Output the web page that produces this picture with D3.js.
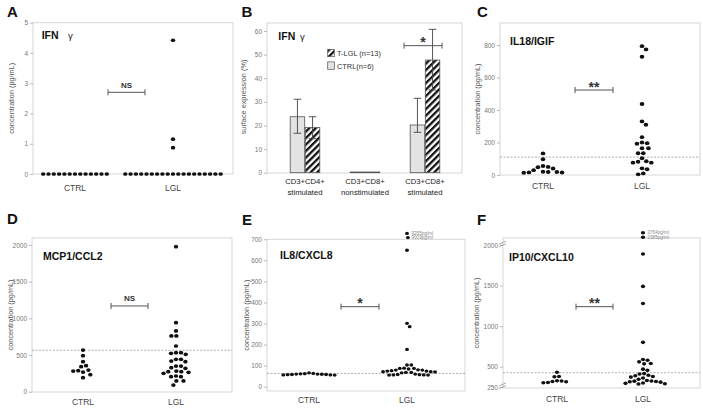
<!DOCTYPE html>
<html><head><meta charset="utf-8">
<script src="https://cdn.jsdelivr.net/npm/d3@7"></script>
<style>body{margin:0;background:#fff} svg{display:block;font-family:"Liberation Sans",Arial,sans-serif}</style>
</head><body><svg id="c" width="703" height="408"></svg>
<script>
// ---------------- DATA ----------------
const groups = ["CTRL", "LGL"];

// A: IFN gamma (pg/mL)
const aCtrl = [0,0,0,0,0,0,0,0,0,0,0,0,0];
const aLgl  = [4.42,1.15,0.87,0,0,0,0,0,0,0,0,0,0,0,0,0,0,0,0,0,0,0];
const aTicks = [0,1,2,3,4,5];

// B: IFN gamma surface expression (%)
const bCategories = [["CD3+CD4+","stimulated"],["CD3+CD8+","nonstimulated"],["CD3+CD8+","stimulated"]];
const bSeries = ["CTRL", "T-LGL"];
const bLegend = ["T-LGL (n=13)", "CTRL(n=6)"];
const bCtrl   = [23.7, 0.3, 20.2];
const bCtrlLo = [16.7, null, 17.1];
const bCtrlHi = [31.1, null, 31.5];
const bTlgl   = [19.1, 0.3, 47.7];
const bTlglLo = [14.4, null, 35.0];
const bTlglHi = [23.7, null, 60.7];
const bTicks = [0,10,20,30,40,50,60];

// C: IL18/IGIF
const cCtrl = [133,97,55,50,48,40,30,20,18,18,16,15,14];
const cLgl  = [793,773,728,437,330,309,233,200,196,192,165,165,134,134,103,85,82,76,76,41,35,10,4];
const cTicks = [0,200,400,600,800];
const cCutoff = 110;

// D: MCP1/CCL2
const dCtrl = [568,491,409,355,341,295,286,282,268,232,191];
const dLgl  = [1977,941,828,760,760,623,532,532,523,510,441,441,418,409,350,350,327,318,282,273,273,264,250,214,205,205,146,146,91];
const dTicks = [0,500,1000,1500,2000];
const dCutoff = 565;

// E: IL8/CXCL8
const eCtrl = [66,63,62,61,60,60,59,58,58,57,56,56,55];
const eLgl  = [9255,9009,648,301,285,177,103,103,88,87,87,84,80,79,79,76,74,74,71,71,70,68,68,66,60,58,57,56,56,55,55];
const eTicks = [0,100,200,300,400,500,600,700];
const eCutoff = 63;
const eOffLabels = [[9255,"9255pg/ml"],[9009,"9009pg/ml"]];

// F: IP10/CXCL10
const fCtrl = [431,380,377,327,324,318,315,305,303];
const fLgl  = [2764,2385,1890,1490,1280,800,590,580,560,540,535,470,455,415,410,395,388,380,372,360,345,330,325,322,318,315,310,300,295,290,288];
const fTicks = [250,500,1000,1500,2000];
const fCutoff = 426;
const fOffLabels = [[2764,"2764pg/ml"],[2385,"2385pg/ml"]];

// ---------------- DRAW ----------------
const svg = d3.select("#c");
const FONT = "'Liberation Sans', Arial, sans-serif";

function swarm(vals, y, D) {
  const pts = vals.map(v => ({v, y: y(v)})).sort((a,b) => a.y - b.y);
  const placed = [];
  for (const p of pts) {
    const cands = [0];
    for (const q of placed) {
      const dy = p.y - q.y;
      if (Math.abs(dy) < D) { const dx = Math.sqrt(D*D - dy*dy); cands.push(q.x + dx, q.x - dx); }
    }
    cands.sort((a,b) => (Math.abs(a) - Math.abs(b)) || (b - a));
    for (const c of cands) {
      if (placed.every(q => (q.x-c)*(q.x-c) + (q.y-p.y)*(q.y-p.y) >= D*D - 1e-6)) { p.x = c; break; }
    }
    placed.push(p);
  }
  return placed;
}

function panelLetter(t, x, y) {
  svg.append("text").attr("x", x).attr("y", y).text(t)
    .attr("font-size", 15).attr("font-weight", "bold").attr("fill", "#111").attr("font-family", FONT);
}

function frame(g, f) {
  g.append("rect").attr("x", f.x0).attr("y", f.y0).attr("width", f.x1 - f.x0).attr("height", f.y1 - f.y0)
    .attr("fill", "none").attr("stroke", "#d2d2d2").attr("stroke-width", 0.9);
}

function yAxis(g, f, y, ticks) {
  const ax = g.append("g").attr("transform", `translate(${f.x0},0)`)
    .call(d3.axisLeft(y).tickValues(ticks).tickSize(3).tickPadding(2).tickFormat(d3.format("d")));
  ax.select(".domain").remove();
  ax.selectAll("line").attr("stroke", "#aaa").attr("stroke-width", 0.8);
  ax.selectAll("text").attr("fill", "#777").attr("font-size", 6.5).attr("font-family", FONT);
}

function yTitle(g, t, x, cy) {
  g.append("text").attr("transform", `translate(${x},${cy}) rotate(-90)`).attr("text-anchor", "middle")
    .text(t).attr("font-size", 7.3).attr("fill", "#555").attr("font-family", FONT);
}

function bracket(g, xa, xb, yy, label, starSize) {
  g.append("line").attr("x1", xa).attr("x2", xb).attr("y1", yy).attr("y2", yy).attr("stroke", "#555").attr("stroke-width", 1);
  [xa, xb].forEach(xx => g.append("line").attr("x1", xx).attr("x2", xx).attr("y1", yy - 3).attr("y2", yy + 3).attr("stroke", "#555").attr("stroke-width", 1));
  const isStar = label.includes("*");
  g.append("text").attr("x", (xa + xb) / 2).attr("y", isStar ? yy + 1.5 : yy - 4.5).attr("text-anchor", "middle")
    .text(label).attr("font-weight", "bold").attr("font-size", isStar ? starSize : 8).attr("fill", "#333").attr("font-family", FONT);
}

function scatterPanel(c) {
  const g = svg.append("g");
  const y = d3.scaleLinear().domain(c.dom).range(c.rng);
  const x = d3.scalePoint().domain(groups).range(c.centers);
  frame(g, c.f);
  if (c.cutoff != null) {
    g.append("line").attr("x1", c.f.x0).attr("x2", c.f.x1).attr("y1", y(c.cutoff)).attr("y2", y(c.cutoff))
      .attr("stroke", "#999").attr("stroke-width", 0.8).attr("stroke-dasharray", "2,1.5");
  }
  yAxis(g, c.f, y, c.ticks);
  yTitle(g, c.ytitle, c.ytx, (c.f.y0 + c.f.y1) / 2);
  // category labels
  groups.forEach(gr => g.append("text").attr("x", x(gr)).attr("y", c.labelY).attr("text-anchor", "middle")
    .text(gr).attr("font-size", 8.5).attr("fill", "#444").attr("font-family", FONT));
  // title
  const tt = g.append("text").attr("x", c.titleX).attr("y", c.titleY).attr("font-weight", "bold")
    .attr("font-size", 10.5).attr("fill", "#111").attr("font-family", FONT).text(c.title);
  if (c.gamma) {
    g.append("text").attr("x", c.gamma).attr("y", c.titleY).attr("font-size", 9.5).attr("fill", "#111")
      .attr("font-family", FONT).text("γ");
  }
  // dots
  [[groups[0], c.ctrl], [groups[1], c.lgl]].forEach(([gr, vals]) => {
    const pts = swarm(vals, y, c.D);
    g.selectAll(null).data(pts).enter().append("ellipse")
      .attr("cx", d => x(gr) + d.x).attr("cy", d => d.y).attr("rx", c.r).attr("ry", c.r * 0.85).attr("fill", "#111");
  });
  if (c.offLabels) {
    c.offLabels.forEach(([v, t]) => g.append("text").attr("x", x(groups[1]) + 4.5).attr("y", y(v) + 1.6)
      .text(t).attr("font-size", 4.6).attr("fill", "#888").attr("font-family", FONT));
  }
  if (c.breaks) {
    c.breaks.forEach(v => {
      [-1.3, 1.3].forEach(o => g.append("line").attr("x1", c.f.x0 - 4).attr("x2", c.f.x0 + 3)
        .attr("y1", y(v) + 1.5 + o).attr("y2", y(v) - 1.5 + o).attr("stroke", "#888").attr("stroke-width", 0.7));
    });
  }
  bracket(g, c.br[0], c.br[1], y(c.sig[0]), c.sig[1], 14);
}

// Panel A
panelLetter("A", 7, 17);
scatterPanel({f:{x0:33,x1:233,y0:22.7,y1:174}, dom:[0,5], rng:[174,22.7], centers:[75,173],
  ctrl:aCtrl, lgl:aLgl, ticks:aTicks, ytitle:"concentration (pg/mL)", ytx:14, labelY:191,
  title:"IFN", gamma:68, titleX:41.7, titleY:39, D:5.3, r:2.2, br:[108,145], sig:[2.7,"NS"]});

// Panel C
panelLetter("C", 477, 17);
scatterPanel({f:{x0:500,x1:700,y0:23,y1:175}, dom:[0,800], rng:[175,45], centers:[543,642],
  ctrl:cCtrl, lgl:cLgl, ticks:cTicks, ytitle:"concentration (pg/mL)", ytx:479.5, labelY:188.5, cutoff:cCutoff,
  title:"IL18/IGIF", titleX:510, titleY:45, D:5.2, r:2.3, br:[575,613], sig:[523,"**"]});

// Panel D
panelLetter("D", 7, 224);
scatterPanel({f:{x0:32,x1:232,y0:238,y1:392}, dom:[0,2000], rng:[391.7,245], centers:[83,176],
  ctrl:dCtrl, lgl:dLgl, ticks:dTicks, ytitle:"concentration (pg/mL)", ytx:13, labelY:405, cutoff:dCutoff,
  title:"MCP1/CCL2", titleX:43, titleY:260, D:5.0, r:2.2, br:[111,148], sig:[1169,"NS"]});

// Panel E
panelLetter("E", 242, 225);
scatterPanel({f:{x0:267,x1:465,y0:239.3,y1:391}, dom:[0,700,9009,9255], rng:[386.7,239.3,237.6,233.4], centers:[309,407],
  ctrl:eCtrl, lgl:eLgl, ticks:eTicks, ytitle:"concentration (pg/mL)", ytx:249, labelY:403, cutoff:eCutoff,
  title:"IL8/CXCL8", titleX:280, titleY:259, D:4.3, r:1.95, br:[341,379], sig:[380,"*"], offLabels:eOffLabels});

// Panel F
panelLetter("F", 477, 225);
scatterPanel({f:{x0:503,x1:700,y0:238,y1:388}, dom:[250,2000,2385,2764], rng:[387,245,237.3,232.7], centers:[557,643],
  ctrl:fCtrl, lgl:fLgl, ticks:fTicks, ytitle:"concentration (pg/mL)", ytx:479, labelY:402, cutoff:fCutoff,
  title:"IP10/CXCL10", titleX:509, titleY:260.5, D:4.6, r:2.1, br:[576,613], sig:[1240,"**"], offLabels:fOffLabels, breaks:[2050,265]});

// Panel B (bar chart)
(function(){
  panelLetter("B", 241.5, 17);
  const g = svg.append("g");
  const f = {x0:267, x1:462, y0:23, y1:173};
  const y = d3.scaleLinear().domain([0,60]).range([172.7,31]);
  const xc = d3.scalePoint().domain(d3.range(bCategories.length)).range([305,425]);
  const xs = d3.scaleBand().domain(bSeries).range([-14.8,14.8]).paddingInner(0.04);
  const defs = svg.append("defs");
  const pat = defs.append("pattern").attr("id","hatch").attr("patternUnits","userSpaceOnUse")
    .attr("width",4.6).attr("height",4.6).attr("patternTransform","rotate(45)");
  pat.append("rect").attr("width",4.6).attr("height",4.6).attr("fill","#fff");
  pat.append("rect").attr("x",0).attr("width",2.3).attr("height",4.6).attr("fill","#111");
  frame(g, f);
  yAxis(g, f, y, bTicks);
  yTitle(g, "surface expression (%)", 246, 97);
  const seriesData = {CTRL:[bCtrl,bCtrlLo,bCtrlHi], "T-LGL":[bTlgl,bTlglLo,bTlglHi]};
  bSeries.forEach(s => {
    const [vals, lo, hi] = seriesData[s];
    vals.forEach((v,i) => {
      const x0 = xc(i) + xs(s);
      g.append("rect").attr("x", x0).attr("y", y(v)).attr("width", xs.bandwidth()).attr("height", y(0) - y(v))
        .attr("fill", s === "CTRL" ? "#e3e3e3" : "url(#hatch)").attr("stroke", "#555").attr("stroke-width", 0.8);
    });
  });
  bSeries.forEach(s => {
    const [vals, lo, hi] = seriesData[s];
    vals.forEach((v,i) => {
      if (lo[i] == null) return;
      const cx = xc(i) + xs(s) + xs.bandwidth()/2;
      g.append("line").attr("x1",cx).attr("x2",cx).attr("y1",y(lo[i])).attr("y2",y(hi[i])).attr("stroke","#444").attr("stroke-width",0.9);
      [lo[i],hi[i]].forEach(e => g.append("line").attr("x1",cx-3.8).attr("x2",cx+3.8).attr("y1",y(e)).attr("y2",y(e)).attr("stroke","#444").attr("stroke-width",0.9));
    });
  });
  // x labels
  bCategories.forEach((lines,i) => lines.forEach((t,k) => g.append("text").attr("x", xc(i)).attr("y", 184 + k*10.8)
    .attr("text-anchor","middle").text(t).attr("font-size",7.7).attr("fill","#222").attr("font-family",FONT)));
  // title
  g.append("text").attr("x",278.3).attr("y",40).attr("font-weight","bold").attr("font-size",10.5).attr("fill","#111").attr("font-family",FONT).text("IFN");
  g.append("text").attr("x",300).attr("y",40).attr("font-size",9.5).attr("fill","#111").attr("font-family",FONT).text("γ");
  // legend
  const legSeries = ["T-LGL","CTRL"];
  legSeries.forEach((s,k) => {
    g.append("rect").attr("x",327.7).attr("y",49.3 + k*12.6).attr("width",6.6).attr("height",7.4)
      .attr("fill", s === "CTRL" ? "#e3e3e3" : "url(#hatch)").attr("stroke","#555").attr("stroke-width",0.7);
    g.append("text").attr("x",337).attr("y",56 + k*12.6).text(bLegend[k]).attr("font-size",7.4).attr("fill","#333").attr("font-family",FONT);
  });
  bracket(g, 404, 442, y(53.8), "*", 14);
})();
</script></body></html>
